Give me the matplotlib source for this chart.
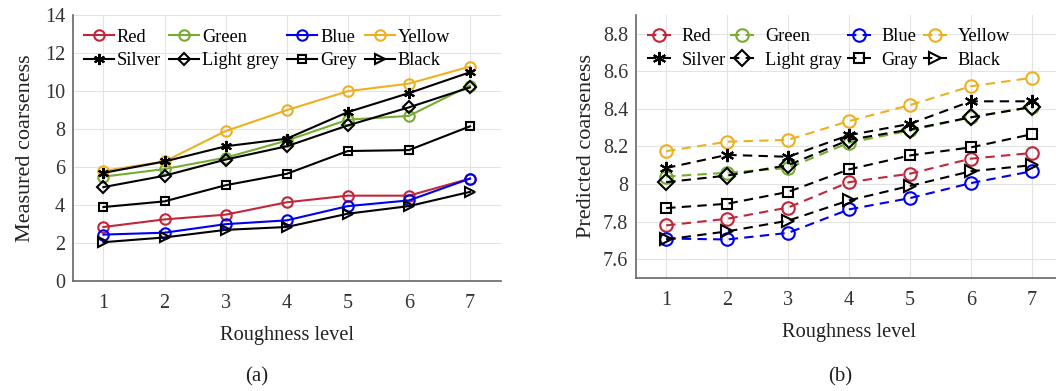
import matplotlib.pyplot as plt
from matplotlib.legend_handler import HandlerLine2D

# --- DATA ---------------------------------------------------------------
levels = [1, 2, 3, 4, 5, 6, 7]

names_a = ["Red", "Green", "Blue", "Yellow", "Silver", "Light grey", "Grey", "Black"]
names_b = ["Red", "Green", "Blue", "Yellow", "Silver", "Light gray", "Gray", "Black"]

# measured coarseness (a)
red_a    = [2.85, 3.25, 3.5, 4.15, 4.5, 4.5, 5.4]
green_a  = [5.5, 5.9, 6.5, 7.4, 8.5, 8.7, 10.3]
blue_a   = [2.45, 2.55, 3.0, 3.2, 3.95, 4.25, 5.4]
yellow_a = [5.8, 6.3, 7.9, 9.0, 10.0, 10.4, 11.3]
silver_a = [5.7, 6.3, 7.1, 7.5, 8.9, 9.9, 11.0]
lgrey_a  = [4.95, 5.55, 6.4, 7.1, 8.2, 9.15, 10.2]
grey_a   = [3.9, 4.2, 5.05, 5.65, 6.85, 6.9, 8.15]
black_a  = [2.05, 2.3, 2.7, 2.85, 3.55, 3.95, 4.7]

# predicted coarseness (b)
red_b    = [7.78, 7.815, 7.875, 8.01, 8.055, 8.135, 8.165]
green_b  = [8.04, 8.06, 8.085, 8.22, 8.285, 8.355, 8.41]
blue_b   = [7.71, 7.705, 7.74, 7.865, 7.925, 8.005, 8.068]
yellow_b = [8.175, 8.225, 8.235, 8.335, 8.42, 8.52, 8.565]
silver_b = [8.085, 8.155, 8.145, 8.26, 8.32, 8.44, 8.44]
lgray_b  = [8.01, 8.045, 8.1, 8.235, 8.29, 8.355, 8.41]
gray_b   = [7.872, 7.895, 7.958, 8.078, 8.152, 8.195, 8.265]
black_b  = [7.705, 7.748, 7.805, 7.913, 7.99, 8.068, 8.1]

series_a = [red_a, green_a, blue_a, yellow_a, silver_a, lgrey_a, grey_a, black_a]
series_b = [red_b, green_b, blue_b, yellow_b, silver_b, lgray_b, gray_b, black_b]
# ------------------------------------------------------------------------

COLORS = ["#C1273A", "#77AC30", "#0000F0", "#EDB120",
          "black", "black", "black", "black"]
MARKERS = ["o", "o", "o", "o", (6, 2, 0), "D", "s", ">"]
MSIZE = [7.5, 7.5, 7.5, 7.5, 8, 6.5, 6, 7.5]
# legend fills column by column -> reorder so rows read Red Green Blue Yellow
LEG_ORDER = [0, 4, 1, 5, 2, 6, 3, 7]

plt.rcParams["font.family"] = ["Liberation Serif", "DejaVu Serif"]
plt.rcParams["font.size"] = 14


class MarkerRight(HandlerLine2D):
    """legend handle: dash first, marker at the right end (like panel b)"""
    def get_xdata(self, legend, xdescent, ydescent, width, height, fontsize):
        xdata = [-xdescent, -xdescent + width]
        return xdata, [-xdescent + width]


def style_axes(ax):
    for side in ["top", "right"]:
        ax.spines[side].set_visible(False)
    for side in ["left", "bottom"]:
        ax.spines[side].set_color("#666666")
        ax.spines[side].set_linewidth(1.2)
    ax.grid(True, color="#e3e3e3", linewidth=0.8)
    ax.set_axisbelow(True)
    ax.tick_params(length=0, labelsize=14.5, colors="#333333")
    ax.tick_params(axis="x", pad=9.5)
    ax.tick_params(axis="y", pad=5.5)
    ax.set_xticks(levels)
    ax.set_xlim(0.5, 7.5)
    ax.set_xlabel("Roughness level", fontsize=14.7, labelpad=9, color="#222222")


fig = plt.figure(figsize=(10.56, 3.91), dpi=100)
ax1 = fig.add_axes([0.069, 0.281, 0.405, 0.68])
ax2 = fig.add_axes([0.602, 0.289, 0.404, 0.673])

for vals, name, c, m, ms in zip(series_a, names_a, COLORS, MARKERS, MSIZE):
    ax1.plot(levels, vals, color=c, marker=m, markersize=ms, markerfacecolor="none",
             markeredgewidth=1.5, linewidth=1.5, label=name)

for vals, name, c, m, ms in zip(series_b, names_b, COLORS, MARKERS, MSIZE):
    ax2.plot(levels, vals, color=c, marker=m, markersize=ms + 1.5, markerfacecolor="none",
             markeredgewidth=1.5, linewidth=1.5, dashes=(4.5, 3), label=name)

style_axes(ax1)
ax1.set_ylim(0, 14)
ax1.set_yticks(range(0, 15, 2))
ax1.set_ylabel("Measured coarseness", fontsize=16, labelpad=7, color="#222222")
h1 = ax1.get_lines()
ax1.legend([h1[i] for i in LEG_ORDER], [names_a[i] for i in LEG_ORDER],
           ncol=4, frameon=False, loc="upper left", bbox_to_anchor=(0.0, 0.99),
           handlelength=1.64, handletextpad=0.15, columnspacing=0.45,
           labelspacing=0.35, borderaxespad=0.2, fontsize=13.2)

style_axes(ax2)
ax2.set_ylim(7.5, 8.9)
ax2.set_yticks([7.6, 7.8, 8.0, 8.2, 8.4, 8.6, 8.8])
ax2.set_yticklabels(["7.6", "7.8", "8", "8.2", "8.4", "8.6", "8.8"])
ax2.set_ylabel("Predicted coarseness", fontsize=16, labelpad=5, color="#222222")
h2 = ax2.get_lines()
ax2.legend([h2[i] for i in LEG_ORDER], [names_b[i] for i in LEG_ORDER],
           ncol=4, frameon=False, loc="upper left", bbox_to_anchor=(0.0, 0.99),
           handlelength=1.3, handletextpad=0.6, columnspacing=0.25,
           labelspacing=0.35, borderaxespad=0.2, fontsize=13.2,
           handler_map={l: MarkerRight(numpoints=1) for l in h2})

fig.text(0.2434, 0.025, "(a)", ha="center", fontsize=15, color="#222222")
fig.text(0.7955, 0.025, "(b)", ha="center", fontsize=15, color="#222222")

fig.savefig("out.png", dpi=100)
